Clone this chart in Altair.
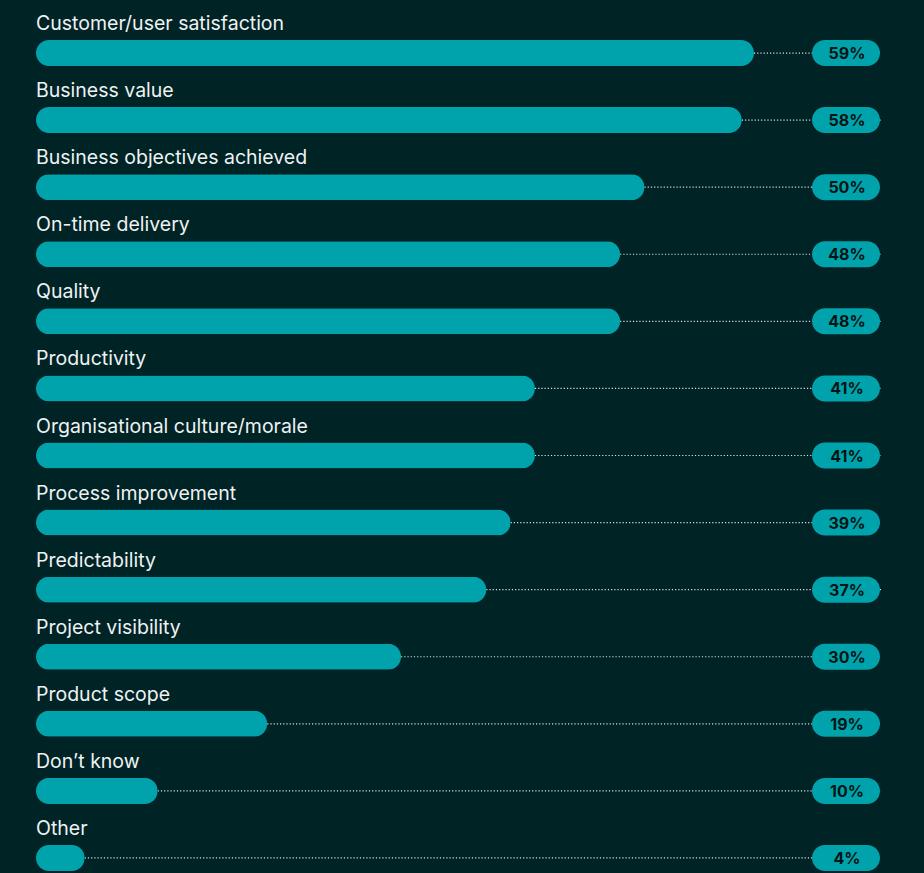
import altair as alt
import pandas as pd

categories = [
    "Customer/user satisfaction", "Business value", "Business objectives achieved",
    "On-time delivery", "Quality", "Productivity", "Organisational culture/morale",
    "Process improvement", "Predictability", "Project visibility", "Product scope",
    "Don\u2019t know", "Other",
]
values = [59, 58, 50, 48, 48, 41, 41, 39, 37, 30, 19, 10, 4]

df = pd.DataFrame({"cat": categories, "val": values})
df["label"] = df["val"].astype(str) + "%"

BG = "#002326"
TEAL = "#00A3AB"

y = alt.Y("cat:N", sort=categories, axis=None,
          scale=alt.Scale(range=[19.5, 891.5], paddingInner=0, paddingOuter=0))
xscale = alt.Scale(domain=[0, 59], range=[36, 754])

base = alt.Chart(df)

dots = base.mark_rule(color="#d9e2e2", strokeWidth=1.2, strokeDash=[1.2, 2]).encode(
    x=alt.X("val:Q", scale=xscale, axis=None), x2=alt.value(881), y=y)

bars = base.mark_bar(color=TEAL, size=26, cornerRadius=13).encode(
    x=alt.X("val:Q", scale=xscale, axis=None), x2=alt.value(36), y=y)

pills = base.mark_bar(color=TEAL, size=26, cornerRadius=13).encode(
    x=alt.value(812), x2=alt.value(880), y=y)

pill_text = base.mark_text(font="Inter", fontSize=16, fontWeight=700, color="#031414",
                           align="center", baseline="middle", dy=1).encode(
    x=alt.value(847), y=y, text="label:N")

cat_text = base.mark_text(font="Inter", fontSize=19.5, color="#eef2f2",
                          align="left", baseline="alphabetic", dy=-23).encode(
    x=alt.value(36), y=y, text="cat:N")

chart = alt.layer(dots, bars, pills, pill_text, cat_text).properties(
    width=924, height=873, background=BG, padding=0,
    autosize=alt.AutoSizeParams(type="none"),
).configure_view(stroke=None)

chart.save("out.html", embed_options={"renderer": "svg", "actions": False})
